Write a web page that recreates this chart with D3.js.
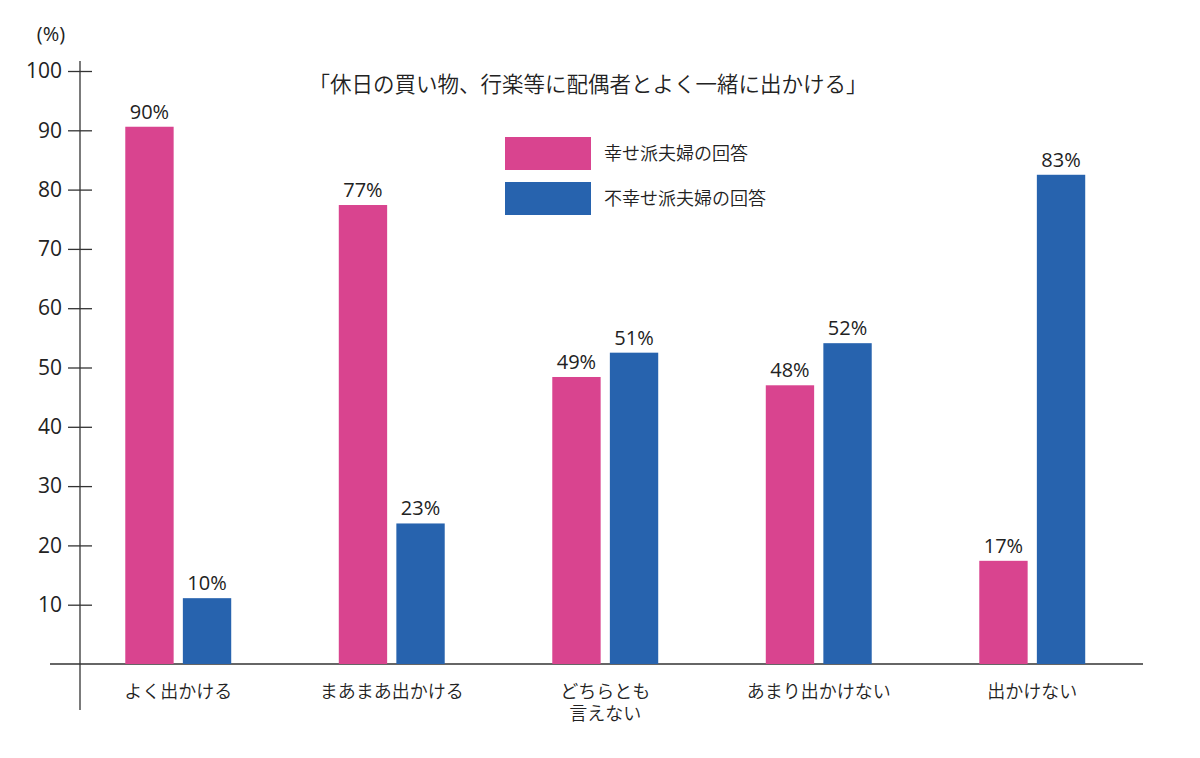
<!DOCTYPE html>
<html><head><meta charset="utf-8">
<script src="https://cdn.jsdelivr.net/npm/d3@7"></script>
<style>body{margin:0;background:#fff;} svg{display:block;font-family:"Noto Sans CJK JP","Noto Sans",sans-serif;} text{font-weight:350;}</style>
</head><body><svg id="c" width="1200" height="758"></svg>
<script>
const categories = [["よく出かける"], ["まあまあ出かける"], ["どちらとも", "言えない"], ["あまり出かけない"], ["出かけない"]];
const happyValues = [90.6, 77.4, 48.4, 47.0, 17.4];
const unhappyValues = [11.1, 23.7, 52.5, 54.1, 82.5];
const happyLabels = ["90%", "77%", "49%", "48%", "17%"];
const unhappyLabels = ["10%", "23%", "51%", "52%", "83%"];
const seriesNames = ["幸せ派夫婦の回答", "不幸せ派夫婦の回答"];
const yTicks = [10, 20, 30, 40, 50, 60, 70, 80, 90, 100];
const title = "「休日の買い物、行楽等に配偶者とよく一緒に出かける」";

const colors = ["#d9448f", "#2763ae"];
const numFont = "'Open Sans','Noto Sans',sans-serif";
const svg = d3.select("#c");
const x0 = d3.scaleBand().domain(d3.range(categories.length)).range([71.5, 1139]).paddingInner(0).paddingOuter(0);
const x1 = d3.scaleBand().domain([0, 1]).range([-57, 57]).paddingInner(0.16).paddingOuter(0.07);
const y = d3.scaleLinear().domain([0, 100]).range([664, 71]);

// axes
svg.append("line").attr("x1", 80).attr("x2", 80).attr("y1", 61).attr("y2", 710).attr("stroke", "#333").attr("stroke-width", 1.3);
svg.append("line").attr("x1", 50).attr("x2", 1143).attr("y1", y(0)).attr("y2", y(0)).attr("stroke", "#333").attr("stroke-width", 1.3);
const yAxis = d3.axisLeft(y).tickValues(yTicks).tickSize(0).tickPadding(18);
const gy = svg.append("g").attr("transform", "translate(80,0)").call(yAxis);
gy.select(".domain").remove();
gy.attr("font-size", null).attr("font-family", null);
gy.selectAll("text").style("font-size", "21px").style("font-weight", 400).attr("fill", "#222").style("font-family", numFont);
gy.selectAll(".tick").append("line").attr("x1", -12).attr("x2", 12).attr("stroke", "#333").attr("stroke-width", 1.3);
svg.append("text").attr("x", 51).attr("y", 41).attr("text-anchor", "middle").style("font-size", "20px").style("font-weight", 400).attr("fill", "#222").style("font-family", numFont).text("(%)");

// bars
const series = [happyValues, unhappyValues];
const labels = [happyLabels, unhappyLabels];
series.forEach((vals, s) => {
  const g = svg.append("g");
  vals.forEach((v, i) => {
    const cx = x0(i) + x0.bandwidth() / 2;
    const bx = cx + x1(s);
    g.append("rect").attr("x", bx).attr("width", x1.bandwidth()).attr("y", y(v)).attr("height", y(0) - y(v)).attr("fill", colors[s]);
    g.append("text").attr("x", bx + x1.bandwidth() / 2).attr("y", y(v) - 8).attr("text-anchor", "middle")
      .style("font-size", "20px").style("font-weight", 400).attr("fill", "#222").style("font-family", numFont).text(labels[s][i]);
  });
});

// category labels
categories.forEach((lines, i) => {
  const cx = x0(i) + x0.bandwidth() / 2;
  const t = svg.append("text").attr("x", cx).attr("y", 698).attr("text-anchor", "middle").style("font-size", "18px").attr("fill", "#222");
  lines.forEach((s, j) => {
    t.append("tspan").attr("x", cx).attr("dy", j === 0 ? 0 : 22).text(s);
  });
});

// title
svg.append("text").attr("x", 588).attr("y", 92).attr("text-anchor", "middle").style("font-size", "21.5px").attr("fill", "#222").text(title);

// legend
seriesNames.forEach((n, k) => {
  const ly = 137 + k * 45;
  svg.append("rect").attr("x", 505).attr("y", ly).attr("width", 86).attr("height", 33).attr("fill", colors[k]);
  svg.append("text").attr("x", 604).attr("y", ly + 23).style("font-size", "18px").attr("fill", "#222").text(n);
});
</script></body></html>
